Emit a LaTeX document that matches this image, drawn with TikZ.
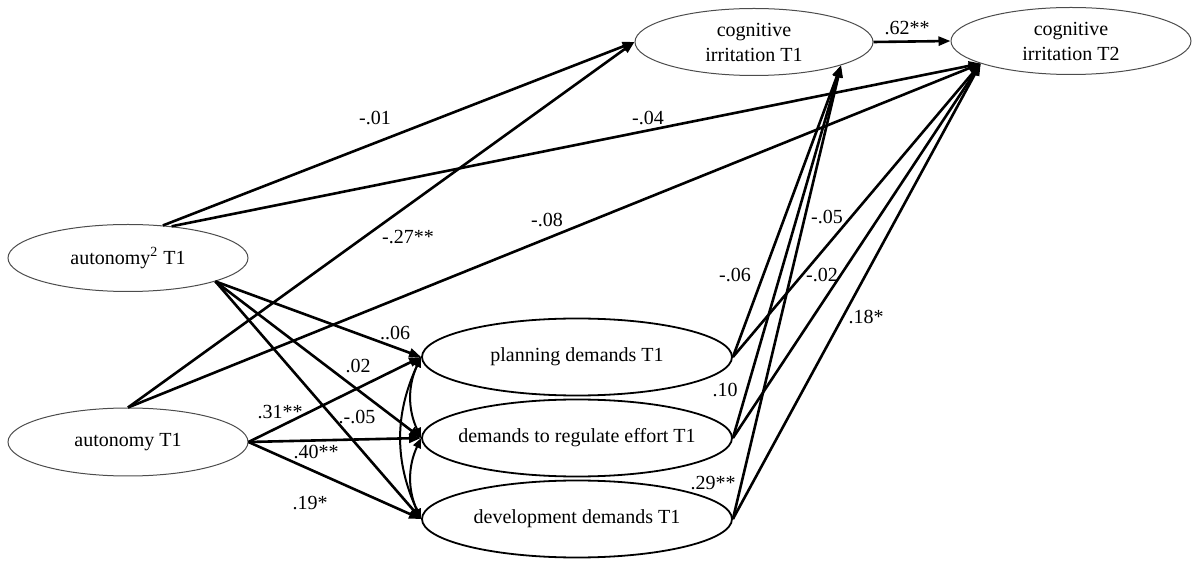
\documentclass[tikz,border=0pt]{standalone}
\usepackage{fontspec}
\setmainfont{Liberation Serif}
\usetikzlibrary{arrows.meta,shapes.geometric}
\begin{document}
\begin{tikzpicture}[x=0.5pt,y=0.5pt,
  every node/.style={font=\fontsize{10}{12.5}\selectfont},
  thinell/.style={ellipse, draw=black!70, line width=0.5pt, inner sep=0pt, align=center},
  thickell/.style={ellipse, draw=black, line width=0.9pt, inner sep=0pt, minimum width=155pt, minimum height=38.5pt},
  conn/.style={line width=1.3pt, -{Triangle[length=6pt,width=4.5pt]}},
  biconn/.style={line width=1pt, {Triangle[length=5pt,width=4pt]}-{Triangle[length=5pt,width=4pt]}},
  lbl/.style={inner sep=0pt}
]
\useasboundingbox (0,0) rectangle (1200,568);

% nodes
\node[thinell, minimum width=120pt, minimum height=33.5pt] (A2) at (128,310) {autonomy\textsuperscript{2} T1};
\node[thinell, minimum width=120pt, minimum height=34pt] (A1) at (128,126) {autonomy T1};
\node[thinell, minimum width=119pt, minimum height=33.5pt] (C1) at (754,526) {cognitive\\irritation T1};
\node[thinell, minimum width=120pt, minimum height=33.5pt] (C2) at (1071,527) {cognitive\\irritation T2};
\node[thickell] (P) at (577,211) {\makebox[0pt]{planning demands T1}};
\node[thickell] (R) at (577,130) {\makebox[0pt]{demands to regulate effort T1}};
\node[thickell] (D) at (577,49) {\makebox[0pt]{development demands T1}};

% autonomy^2 paths
\draw[conn] (A2.43) -- (C1.west);
\draw[conn] (A2.36) -- (C2.194);
\draw[conn] (A2.-15) -- (P.west);
\draw[conn] (A2.-15) -- (R.west);
\draw[conn] (A2.-15) -- (D.west);

% autonomy paths
\draw[conn] (A1.north) -- (C1.west);
\draw[conn] (A1.north) -- (C2.194);
\draw[conn] (A1.east) -- (P.west);
\draw[conn] (A1.east) -- (R.west);
\draw[conn] (A1.east) -- (D.west);

% mediators to outcomes
\draw[conn] (P.east) -- (C1.-15);
\draw[conn] (P.east) -- (C2.194);
\draw[conn] (R.east) -- (C1.-15);
\draw[conn] (R.east) -- (C2.194);
\draw[conn] (D.east) -- (C1.-15);
\draw[conn] (D.east) -- (C2.194);

% stability
\draw[conn] (C1.east) -- (C2.west);

% covariances
\draw[biconn] (P.west) to[bend right=25] (R.west);
\draw[biconn] (R.west) to[bend right=25] (D.west);
\draw[biconn] (P.west) to[bend right=25] (D.west);

% labels
\node[lbl] (l1) at (375,450) {-.01};
\node[lbl] (l2) at (648,450) {-.04};
\node[lbl] (l3) at (408,331) {-.27**};
\node[lbl] (l4) at (547,348) {-.08};
\node[lbl] (l5) at (735,293) {-.06};
\node[lbl] (l6) at (827,351) {-.05};
\node[lbl] (l7) at (822,293) {-.02};
\node[lbl] (l8) at (866,251) {.18*};
\node[lbl] (l9) at (725,178) {.10};
\node[lbl] (l10) at (713,85) {.29**};
\node[lbl] (l11) at (395,235) {..06};
\node[lbl] (l12) at (358,202) {.02};
\node[lbl] (l13) at (280,156) {.31**};
\node[lbl] (l14) at (357,151) {.-.05};
\node[lbl] (l15) at (316,116) {.40**};
\node[lbl] (l16) at (310,65) {.19*};
\node[lbl] (l17) at (907,540) {.62**};
\end{tikzpicture}
\end{document}
